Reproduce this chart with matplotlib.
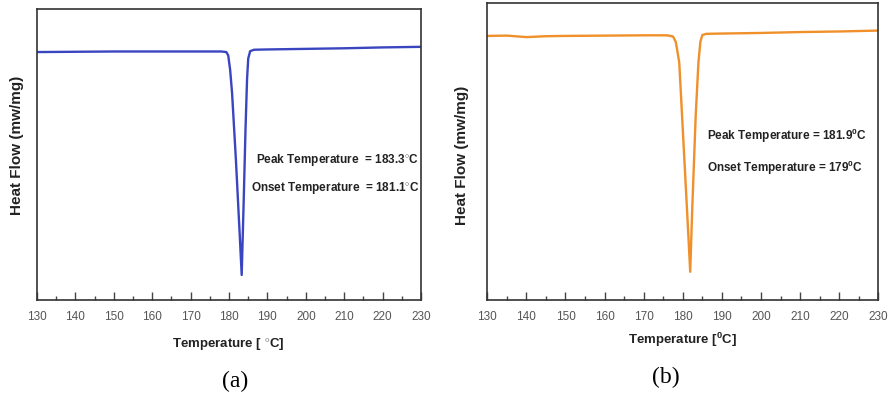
import matplotlib
matplotlib.use("Agg")
import matplotlib.pyplot as plt

plt.rcParams["font.family"] = ["Liberation Sans", "DejaVu Sans"]
plt.rcParams["mathtext.fontset"] = "custom"
plt.rcParams["mathtext.rm"] = "Liberation Sans"
plt.rcParams["mathtext.bf"] = "Liberation Sans:bold"

# DSC trace (a), arbitrary heat-flow units
temp_a = [130, 140, 150, 160, 170, 178, 179.3, 179.8, 180.3, 180.8, 181.8, 182.8,
          183.3, 183.8, 184.3, 184.7, 185.0, 185.5, 186.5, 190, 200, 210, 220, 230]
flow_a = [0.852, 0.853, 0.854, 0.854, 0.854, 0.854, 0.852, 0.84, 0.79, 0.71, 0.48, 0.22,
          0.086, 0.33, 0.59, 0.76, 0.83, 0.855, 0.860, 0.861, 0.863, 0.865, 0.868, 0.870]

# DSC trace (b)
temp_b = [130, 135, 140, 145, 150, 160, 170, 176, 177.5, 178.2, 178.6, 179.1, 180.3,
          181.3, 181.9, 182.4, 183.3, 184.0, 184.5, 185.0, 186, 190, 200, 210, 220, 230]
flow_b = [0.890, 0.891, 0.886, 0.889, 0.890, 0.891, 0.892, 0.892, 0.888, 0.87, 0.84,
          0.80, 0.50, 0.25, 0.095, 0.30, 0.62, 0.80, 0.87, 0.893, 0.897, 0.898, 0.900,
          0.903, 0.905, 0.908]

peak_a, onset_a = "183.3", "181.1"
peak_b, onset_b = "181.9", "179"

fig = plt.figure(figsize=(8.92, 4.0), dpi=100)


def style_axes(ax):
    ax.set_xlim(130, 230)
    ax.set_ylim(0, 1)
    ax.set_xticks(range(130, 231, 10))
    ax.set_xticks(range(135, 230, 10), minor=True)
    ax.set_yticks([])
    ax.tick_params(axis="x", which="major", direction="in", length=6, width=1,
                   color="#444444", labelsize=8.5, labelcolor="#555555", pad=8)
    ax.tick_params(axis="x", which="minor", direction="in", length=3, width=1,
                   color="#444444")
    for sp in ax.spines.values():
        sp.set_color("#333333")
        sp.set_linewidth(1.2)


def note(ax, x, y, s, ha):
    ax.text(x, y, s, transform=ax.transAxes, ha=ha, va="center", fontsize=8.5,
            fontweight="bold", color="#222222")


ax_a = fig.add_axes([0.0415, 0.25, 0.4305, 0.7275])
ax_a.plot(temp_a, flow_a, color="#3a45c0", lw=1.7)
style_axes(ax_a)
note(ax_a, 0.995, (300 - 160) / 291, f"Peak Temperature  = {peak_a}$^{{\\circ}}$C", "right")
note(ax_a, 0.995, (300 - 188) / 291, f"Onset Temperature  = {onset_a}$^{{\\circ}}$C", "right")

ax_b = fig.add_axes([0.5463, 0.25, 0.4383, 0.7418])
ax_b.plot(temp_b, flow_b, color="#f0902a", lw=1.7)
style_axes(ax_b)
note(ax_b, (707 - 487.3) / 391, (300 - 136) / 296.7,
     f"Peak Temperature = {peak_b}$^{{\\mathbf{{0}}}}$C", "left")
note(ax_b, (707 - 487.3) / 391, (300 - 168) / 296.7,
     f"Onset Temperature = {onset_b}$^{{\\mathbf{{0}}}}$C", "left")

# axis labels
fig.text(228 / 892, 1 - 345 / 400, "Temperature [ $^{\\circ}$C]", ha="center", va="center",
         fontsize=9.5, fontweight="bold", color="#222222")
fig.text(683 / 892, 1 - 340 / 400, "Temperature [$^{\\mathbf{0}}$C]", ha="center", va="center",
         fontsize=9.5, fontweight="bold", color="#222222")
fig.text(17 / 892, 1 - 145 / 400, "Heat Flow (mw/mg)", rotation=90, ha="center", va="center",
         fontsize=11, fontweight="bold", color="#222222")
fig.text(462 / 892, 1 - 155 / 400, "Heat Flow (mw/mg)", rotation=90, ha="center", va="center",
         fontsize=11, fontweight="bold", color="#222222")

# panel captions
fig.text(235 / 892, 1 - 381 / 400, "(a)", ha="center", va="center", fontsize=17,
         family="Liberation Serif")
fig.text(666 / 892, 1 - 377 / 400, "(b)", ha="center", va="center", fontsize=17,
         family="Liberation Serif")

fig.savefig("out.png", dpi=100)
